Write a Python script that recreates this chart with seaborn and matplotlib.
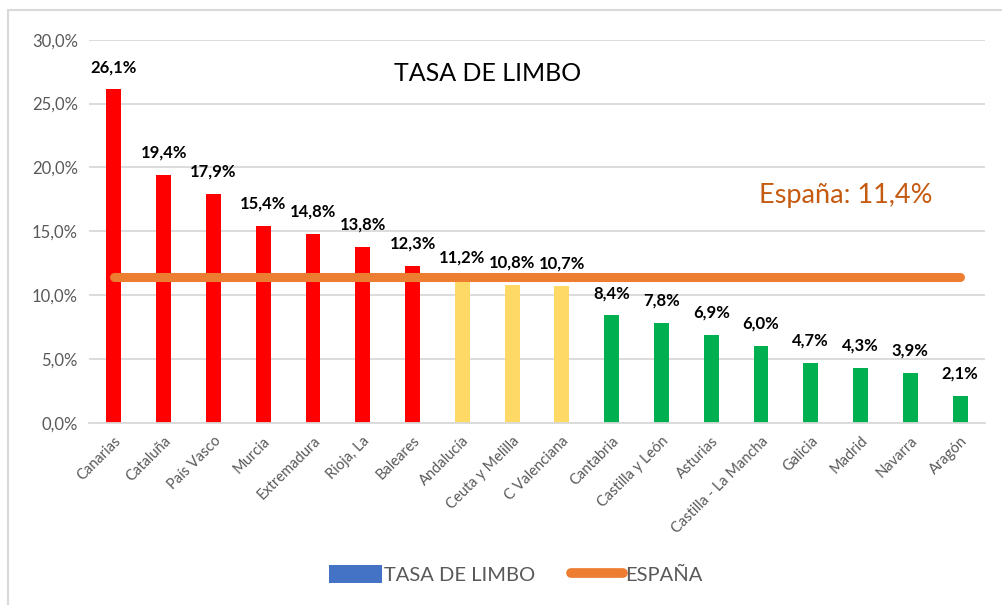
import numpy as np
import pandas as pd
import seaborn as sns
import matplotlib
matplotlib.use("Agg")
import matplotlib.pyplot as plt
from matplotlib.lines import Line2D
from matplotlib.patches import Patch

# ---------------- data ----------------
categories = ["Canarias", "Cataluña", "País Vasco", "Murcia", "Extremadura", "Rioja, La",
              "Baleares", "Andalucía", "Ceuta y Melilla", "C Valenciana", "Cantabria",
              "Castilla y León", "Asturias", "Castilla - La Mancha", "Galicia", "Madrid",
              "Navarra", "Aragón"]
tasa = [26.1, 19.4, 17.9, 15.4, 14.8, 13.8, 12.3, 11.2, 10.8, 10.7, 8.4, 7.8, 6.9, 6.0,
        4.7, 4.3, 3.9, 2.1]
espana = 11.4
groups = ["alto"] * 7 + ["medio"] * 3 + ["bajo"] * 8
group_colors = {"alto": "#FF0000", "medio": "#FFD966", "bajo": "#00B050"}
yticks = [0, 5, 10, 15, 20, 25, 30]

# ---------------- style ----------------
sns.set_theme(style="white")
plt.rcParams["font.family"] = ["Lato", "DejaVu Sans"]

df = pd.DataFrame({"region": categories, "tasa": tasa, "grupo": groups})
bar_colors = [group_colors[g] for g in groups]

fig = plt.figure(figsize=(10.02, 6.05), dpi=100)
ax = fig.add_axes([89 / 1002, 1 - 422.7 / 605, (985 - 89) / 1002, (422.7 - 39.7) / 605])

sns.barplot(data=df, x="region", y="tasa", hue="region", palette=bar_colors,
            width=0.3, legend=False, ax=ax, saturation=1, linewidth=0)

x = np.arange(len(categories))
ax.plot(x, [espana] * len(categories), color="#ED7D31", lw=6.5,
        solid_capstyle="round", zorder=5)

ax.set_ylim(0, 30)
ax.set_xlim(-0.5, len(categories) - 0.5)
ax.set_yticks(yticks)
ax.set_yticklabels([f"{v:.1f}%".replace(".", ",") for v in yticks], color="#595959", fontsize=12)
ax.yaxis.grid(True, color="#D9D9D9", lw=1.3)
ax.set_axisbelow(True)
ax.tick_params(axis="y", length=0, pad=8)
ax.tick_params(axis="x", length=0, pad=8)
ax.set_xticks(x)
ax.set_xticklabels(categories, rotation=45, ha="right", rotation_mode="anchor",
                   color="#595959", fontsize=10.5)
for s in ["top", "right", "left"]:
    ax.spines[s].set_visible(False)
ax.spines["bottom"].set_color("#D9D9D9")
ax.spines["bottom"].set_linewidth(1.3)
ax.set_xlabel("")
ax.set_ylabel("")

for xi, v in zip(x, tasa):
    ax.annotate(f"{v:.1f}%".replace(".", ","), (xi, v), xytext=(0, 16),
                textcoords="offset points", ha="center", va="center",
                fontsize=12, fontweight="bold", color="black", zorder=6)

ax.text(0.445, 0.913, "TASA DE LIMBO", transform=ax.transAxes, ha="center", va="center",
        fontsize=18, color="black")
ax.text(0.845, 0.592, "España: 11,4%", transform=ax.transAxes, ha="center", va="center",
        fontsize=19.5, color="#C55A11")

handles = [Patch(facecolor="#4472C4", edgecolor="none"),
           Line2D([0], [0], color="#ED7D31", lw=7, solid_capstyle="round")]
fig.legend(handles, ["TASA DE LIMBO", "ESPAÑA"], loc="center", bbox_to_anchor=(0.515, 0.05),
           ncol=2, frameon=False, fontsize=14.5, labelcolor="#595959", handlelength=2.6,
           handleheight=1.0, handletextpad=0.1, columnspacing=1.8)

fig.add_artist(Line2D([8 / 1002, 8 / 1002], [0, 1 - 10 / 605], color="#D9D9D9", lw=1.5,
                      transform=fig.transFigure))
fig.add_artist(Line2D([8 / 1002, 1], [1 - 10 / 605, 1 - 10 / 605], color="#D9D9D9", lw=1.5,
                      transform=fig.transFigure))

fig.savefig("out.png", dpi=100, facecolor="white")
